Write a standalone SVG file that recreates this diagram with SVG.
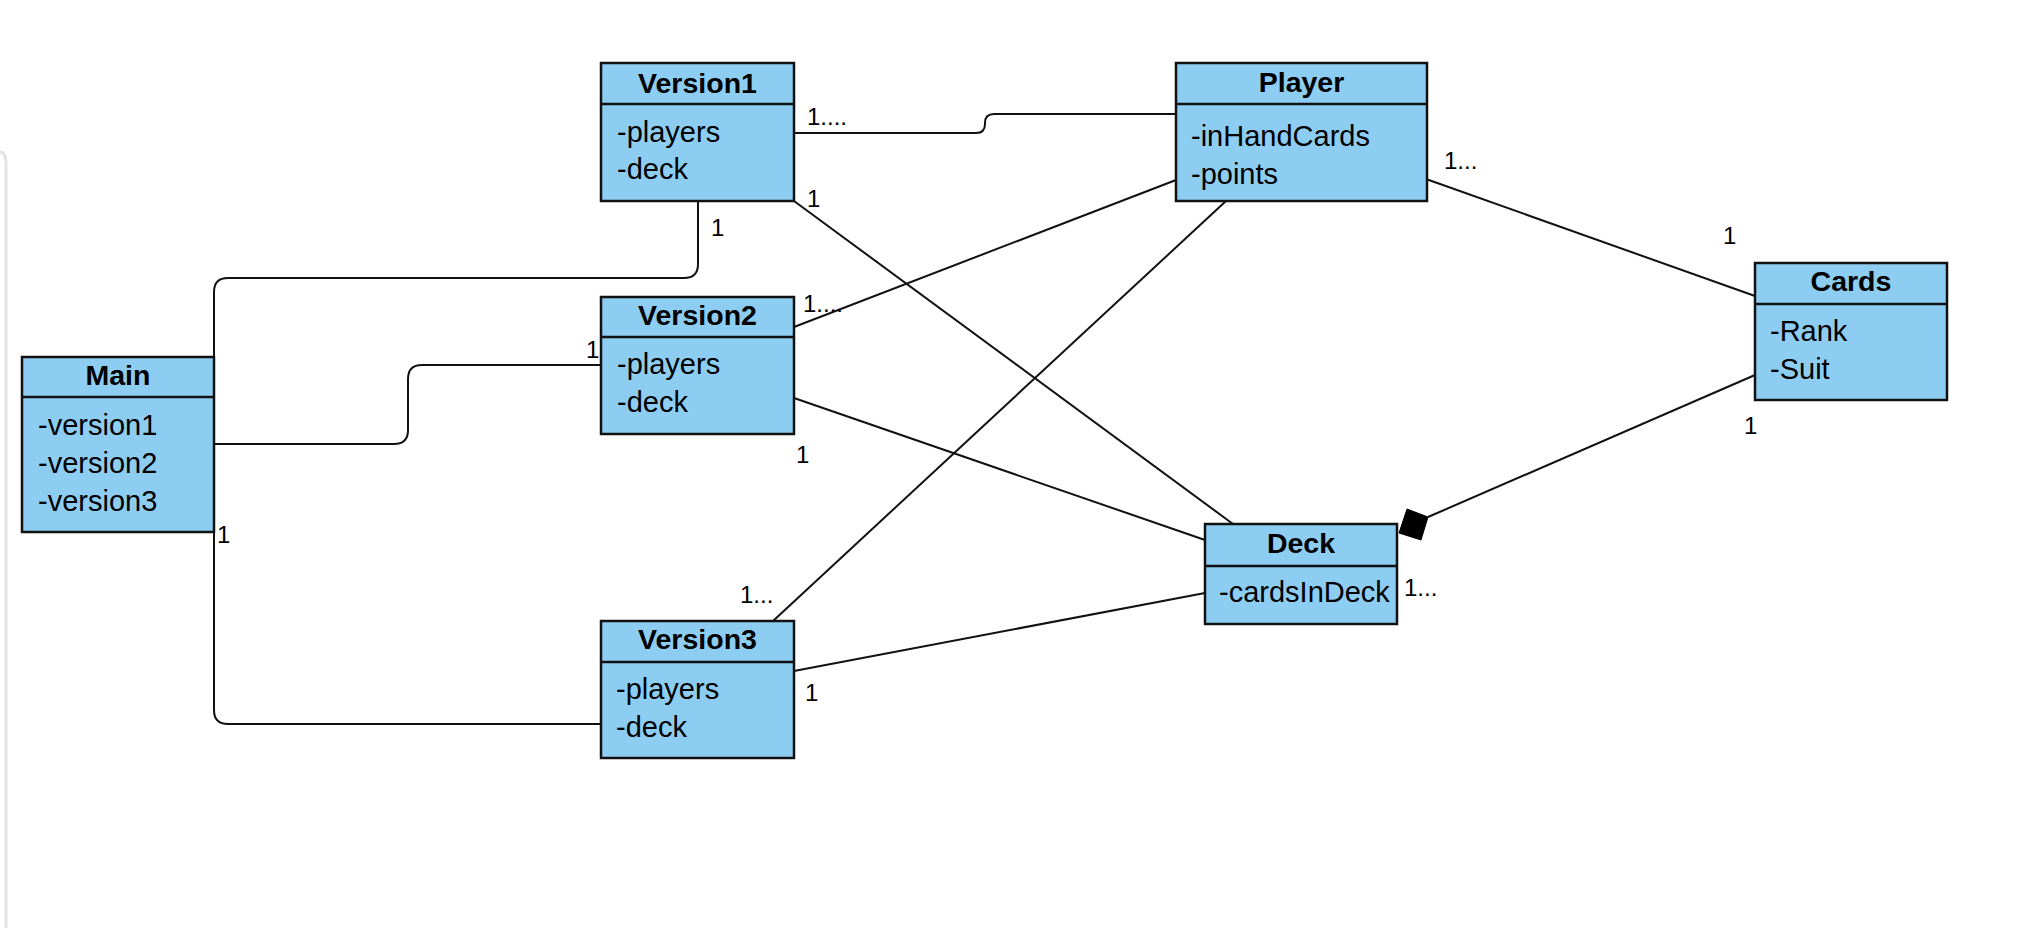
<svg xmlns="http://www.w3.org/2000/svg" width="2020" height="928" viewBox="0 0 2020 928">
<style>
.box{fill:#8ECDF2;stroke:#111;stroke-width:2.5}
.sep{stroke:#111;stroke-width:2.5}
.hd{font-family:"Liberation Sans",Arial,sans-serif;font-weight:bold;font-size:28.5px;fill:#000;text-anchor:middle}
.at{font-family:"Liberation Sans",Arial,sans-serif;font-size:29px;fill:#000}
.lb{font-family:"Liberation Sans",Arial,sans-serif;font-size:24px;fill:#000}
.cn{fill:none;stroke:#111;stroke-width:2}
</style>
<rect width="2020" height="928" fill="#fff"/>
<path d="M0,152 Q6,152 6,164 L6,928" fill="none" stroke="#e4e4e4" stroke-width="3"/>
<g id="connectors">
<path class="cn" d="M214,357 L214,292 Q214,278 228,278 L684,278 Q698,278 698,264 L698,201"/>
<path class="cn" d="M214,444 L394,444 Q408,444 408,430 L408,379 Q408,365 422,365 L601,365"/>
<path class="cn" d="M214,532 L214,710 Q214,724 228,724 L601,724"/>
<path class="cn" d="M794,133 L976,133 Q985,133 985,124 L985,123 Q985,114 994,114 L1176,114"/>
<path class="cn" d="M794,201 L1233,524"/>
<path class="cn" d="M1176,180 L794,327"/>
<path class="cn" d="M1226,201 L773,621"/>
<path class="cn" d="M794,398 L1205,540"/>
<path class="cn" d="M794,671 L1205,593"/>
<path class="cn" d="M1426,179 L1755,296"/>
<path class="cn" d="M1755,375 L1428,517"/>
<polygon points="1399,533 1407,509 1428,517 1421,540" fill="#000" stroke="#000" stroke-width="1"/>
<text class="lb" x="807" y="125">1....</text>
<text class="lb" x="711" y="236">1</text>
<text class="lb" x="807" y="207">1</text>
<text class="lb" x="803" y="312">1....</text>
<text class="lb" x="586" y="358">1</text>
<text class="lb" x="796" y="463">1</text>
<text class="lb" x="217" y="543">1</text>
<text class="lb" x="740" y="603">1...</text>
<text class="lb" x="805" y="701">1</text>
<text class="lb" x="1444" y="169">1...</text>
<text class="lb" x="1723" y="244">1</text>
<text class="lb" x="1744" y="434">1</text>
<text class="lb" x="1404" y="596">1...</text>
</g>
<g id="Main">
<rect class="box" x="22" y="357" width="192" height="175"/>
<line class="sep" x1="22" y1="397" x2="214" y2="397"/>
<text class="hd" x="118" y="385">Main</text>
<text class="at" x="38" y="435">-version1</text>
<text class="at" x="38" y="473">-version2</text>
<text class="at" x="38" y="511">-version3</text>
</g>
<g id="Version1">
<rect class="box" x="601" y="63" width="193" height="138"/>
<line class="sep" x1="601" y1="104" x2="794" y2="104"/>
<text class="hd" x="697.5" y="93">Version1</text>
<text class="at" x="617" y="142">-players</text>
<text class="at" x="617" y="179">-deck</text>
</g>
<g id="Version2">
<rect class="box" x="601" y="297" width="193" height="137"/>
<line class="sep" x1="601" y1="337" x2="794" y2="337"/>
<text class="hd" x="697.5" y="325">Version2</text>
<text class="at" x="617" y="374">-players</text>
<text class="at" x="617" y="412">-deck</text>
</g>
<g id="Version3">
<rect class="box" x="601" y="621" width="193" height="137"/>
<line class="sep" x1="601" y1="662" x2="794" y2="662"/>
<text class="hd" x="697.5" y="649">Version3</text>
<text class="at" x="616" y="699">-players</text>
<text class="at" x="616" y="737">-deck</text>
</g>
<g id="Player">
<rect class="box" x="1176" y="63" width="251" height="138"/>
<line class="sep" x1="1176" y1="104" x2="1427" y2="104"/>
<text class="hd" x="1301.5" y="92">Player</text>
<text class="at" x="1191" y="146">-inHandCards</text>
<text class="at" x="1191" y="184">-points</text>
</g>
<g id="Cards">
<rect class="box" x="1755" y="263" width="192" height="137"/>
<line class="sep" x1="1755" y1="304" x2="1947" y2="304"/>
<text class="hd" x="1851" y="291">Cards</text>
<text class="at" x="1770" y="341">-Rank</text>
<text class="at" x="1770" y="379">-Suit</text>
</g>
<g id="Deck">
<rect class="box" x="1205" y="524" width="192" height="100"/>
<line class="sep" x1="1205" y1="566" x2="1397" y2="566"/>
<text class="hd" x="1301" y="553">Deck</text>
<text class="at" x="1219" y="602">-cardsInDeck</text>
</g>
</svg>
